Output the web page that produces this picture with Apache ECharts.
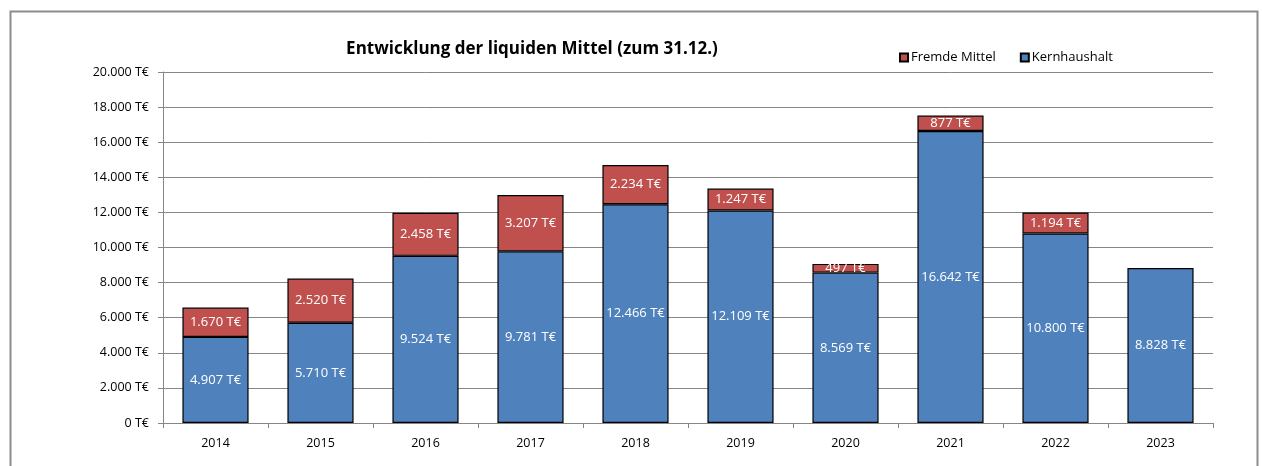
<!DOCTYPE html>
<html>
<head>
<meta charset="utf-8">
<script src="https://cdn.jsdelivr.net/npm/echarts@6/dist/echarts.min.js"></script>
<style>
  html, body { margin: 0; padding: 0; background: #fff; }
  #chart { width: 1262px; height: 466px; }
</style>
</head>
<body>
<div id="chart"></div>
<script>
var years = ['2014', '2015', '2016', '2017', '2018', '2019', '2020', '2021', '2022', '2023'];
var kernhaushalt = [4907, 5710, 9524, 9781, 12466, 12109, 8569, 16642, 10800, 8828];
var fremdeMittel = [1670, 2520, 2458, 3207, 2234, 1247, 497, 877, 1194, null];

function fmtTE(v){
    var s = String(Math.round(v)).replace(/\B(?=(\d{3})+(?!\d))/g, '.');
    return s + ' T€';
}

var chart = echarts.init(document.getElementById('chart'));
var font = 'Open Sans, Liberation Sans, sans-serif';

var option = {
    animation: false,
    textStyle: { fontFamily: font },
    graphic: [{
        type: 'rect',
        shape: { x: 10.5, y: 11.5, width: 1247, height: 470 },
        style: { fill: 'none', stroke: '#8c8c8c', lineWidth: 2 },
        silent: true
    }],
    title: {
        text: 'Entwicklung der liquiden Mittel (zum 31.12.)',
        left: 527,
        top: 36,
        textAlign: 'center',
        textStyle: { fontSize: 17, fontWeight: 'bold', color: '#000', fontFamily: font }
    },
    legend: {
        data: ['Fremde Mittel', 'Kernhaushalt'],
        left: 894,
        top: 46,
        itemWidth: 8,
        itemHeight: 8,
        itemGap: 24,
        icon: 'rect',
        textStyle: { fontSize: 13, color: '#000', fontFamily: font, padding: [0, 0, 0, -2] }
    },
    grid: { left: 163, right: 49, top: 72, bottom: 43 },
    xAxis: {
        type: 'category',
        data: years,
        axisLine: { lineStyle: { color: '#868686' } },
        axisTick: { show: true, length: 5, lineStyle: { color: '#868686' } },
        axisLabel: { color: '#000', fontSize: 12.5, margin: 14 }
    },
    yAxis: {
        type: 'value',
        min: 0,
        max: 20000,
        interval: 2000,
        axisLine: { show: true, lineStyle: { color: '#868686' } },
        axisTick: { show: true, length: 5, lineStyle: { color: '#868686' } },
        splitLine: { lineStyle: { color: '#868686' } },
        axisLabel: {
            color: '#000', fontSize: 12.5, margin: 14,
            formatter: function(v){ return fmtTE(v); }
        }
    },
    series: [
        {
            name: 'Kernhaushalt',
            type: 'bar',
            stack: 'total',
            barWidth: '63%',
            data: kernhaushalt,
            itemStyle: { color: '#4F81BD', borderColor: '#000', borderWidth: 1.2 },
            label: {
                show: true, position: 'inside', color: '#fff', fontSize: 13,
                formatter: function(p){ return fmtTE(p.value); }
            }
        },
        {
            name: 'Fremde Mittel',
            type: 'bar',
            stack: 'total',
            barWidth: '63%',
            data: fremdeMittel,
            itemStyle: { color: '#C0504D', borderColor: '#000', borderWidth: 1.2 },
            label: {
                show: true, position: 'inside', color: '#fff', fontSize: 13,
                formatter: function(p){ return p.value ? fmtTE(p.value) : ''; }
            }
        }
    ]
};
chart.setOption(option);
</script>
</body>
</html>
